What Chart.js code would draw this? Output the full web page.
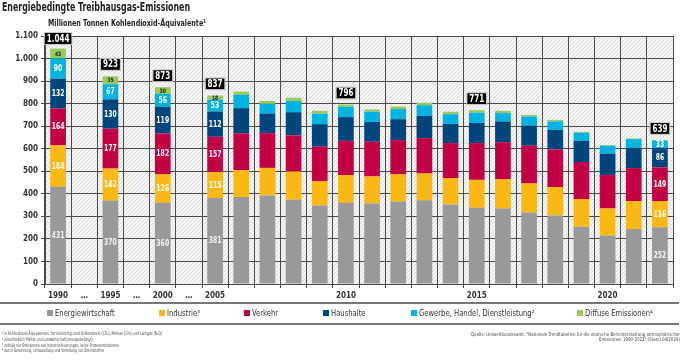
<!DOCTYPE html>
<html>
<head>
<meta charset="utf-8">
<script src="https://cdn.jsdelivr.net/npm/chart.js@4/dist/chart.umd.min.js"></script>
<style>
  html, body { margin: 0; padding: 0; background: #fff; }
  #wrap { position: relative; width: 684px; height: 361px; }
</style>
</head>
<body>
<div id="wrap"><canvas id="emissionen"></canvas></div>
<script>
const FONT = "'Liberation Sans Narrow', 'DejaVu Sans Condensed', 'Open Sans', sans-serif";

// categories ("…" = skipped years, no bar)
const categories = ['1990', '…', '1995', '…', '2000', '…', '2005', '2006', '2007', '2008', '2009', '2010',
    '2011', '2012', '2013', '2014', '2015', '2016', '2017', '2018', '2019', '2020', '2021', '2022'];

// Mio. t CO2-Äquivalente
const energiewirtschaft = [431, null, 370, null, 360, null, 381, 386, 393, 374, 348, 360, 357, 366, 371, 353, 338, 335, 317, 304, 254, 215, 244, 252];
const industrie = [184, null, 142, null, 126, null, 115, 119, 122, 125, 109, 123, 120, 120, 119, 117, 124, 129, 129, 126, 123, 120, 124, 116];
const verkehr = [164, null, 177, null, 182, null, 157, 163, 154, 160, 152, 152, 154, 152, 157, 155, 163, 165, 167, 167, 164, 148, 146, 149];
const haushalte = [132, null, 130, null, 119, null, 112, 112, 87, 103, 100, 105, 88, 93, 99, 85, 89, 92, 90, 87, 94, 95, 90, 86];
const gewerbe = [90, null, 67, null, 56, null, 53, 59, 43, 50, 46, 46, 45, 45, 47, 43, 46, 38, 40, 37, 36, 35, 39, 33];
const diffuse = [43, null, 35, null, 30, null, 18, 14, 13, 14, 13, 10, 10, 11, 11, 11, 11, 9, 7, 7, 4, 3, 2, 3];

// totals shown in the black boxes
const totalYears = ['1990', '1995', '2000', '2005', '2010', '2015', '2022'];
const totalValues = [1044, 923, 873, 837, 796, 771, 639];

// bars whose segments carry value labels
const labelledYears = ['1990', '1995', '2000', '2005', '2022'];

const yTicks = { min: 0, max: 1100, step: 100 };

const fmt = v => v.toLocaleString('de-DE');


// draw text squeezed horizontally (the original uses a narrow font)
function squeezed(ctx, txt, x, y, sx) {
    ctx.save();
    ctx.translate(x, y);
    ctx.scale(sx, 1);
    ctx.fillText(txt, 0, 0);
    ctx.restore();
}

// squeeze factor so that txt gets the given width
function fitScale(ctx, txt, width) {
    return Math.min(1, width / ctx.measureText(txt).width);
}

// hatched plot background
function hatchPattern(ctx) {
    const c = document.createElement('canvas');
    c.width = 4; c.height = 4;
    const g = c.getContext('2d');
    g.fillStyle = '#f4f4f4';
    g.fillRect(0, 0, 4, 4);
    g.fillStyle = '#dddddd';
    for (let i = 0; i < 4; i++) g.fillRect(i, 3 - i, 1, 1);
    return ctx.createPattern(c, 'repeat');
}

const background = {
    id: 'background',
    beforeDraw(chart) {
        const { ctx, chartArea: a } = chart;
        ctx.save();
        ctx.fillStyle = hatchPattern(ctx);
        ctx.fillRect(a.left, a.top, a.right - a.left, a.bottom - a.top);
        ctx.restore();
    }
};

// segment values, total boxes, titles, legend and notes
const decorations = {
    id: 'decorations',
    afterDatasetsDraw(chart) {
        const ctx = chart.ctx;
        ctx.save();
        ctx.textAlign = 'center';
        ctx.textBaseline = 'middle';

        // values inside the segments
        labelledYears.forEach(year => {
            const i = categories.indexOf(year);
            chart.data.datasets.forEach((ds, d) => {
                const v = ds.data[i];
                if (v == null || v < 5) return;
                const el = chart.getDatasetMeta(d).data[i];
                const cy = (el.y + el.base) / 2;
                if (d === 5) {
                    ctx.font = 'bold 6px ' + FONT;
                    ctx.fillStyle = '#222';
                } else {
                    ctx.font = 'bold 8px ' + FONT;
                    ctx.fillStyle = d === 0 ? '#f2f2f2' : '#fff';
                }
                squeezed(ctx, String(v), el.x, cy + 0.5, 0.85);
            });
        });

        // totals
        const y = chart.scales.y;
        totalYears.forEach((year, k) => {
            const i = categories.indexOf(year);
            const x = chart.scales.x.getPixelForValue(i);
            const top = y.getPixelForValue(totalValues[k]);
            const txt = fmt(totalValues[k]);
            ctx.font = 'bold 10px ' + FONT;
            const w = ctx.measureText(txt).width * 0.8 + 4;
            const h = 11;
            const by = Math.max(top - 6 - h, chart.chartArea.top - 3);
            ctx.fillStyle = '#000';
            ctx.strokeStyle = '#c8c8c8';
            ctx.lineWidth = 1;
            ctx.fillRect(x - w / 2, by, w, h);
            ctx.strokeRect(x - w / 2 - 0.5, by - 0.5, w + 1, h + 1);
            ctx.fillStyle = '#fff';
            squeezed(ctx, txt, x, by + h / 2 + 0.5, 0.8);
        });
        ctx.restore();
    },
    afterDraw(chart) {
        const ctx = chart.ctx;
        ctx.save();
        ctx.textBaseline = 'middle';
        ctx.textAlign = 'left';

        const title = 'Energiebedingte Treibhausgas-Emissionen';
        const subtitle = 'Millionen Tonnen Kohlendioxid-Äquivalente¹';
        ctx.fillStyle = '#222';
        ctx.font = 'bold 13px ' + FONT;
        squeezed(ctx, title, 2, 8, fitScale(ctx, title, 188));
        ctx.font = 'bold 9px ' + FONT;
        squeezed(ctx, subtitle, 48, 24, fitScale(ctx, subtitle, 158));

        // rules
        ctx.fillStyle = '#777';
        ctx.fillRect(0, 302, 679, 2);
        ctx.fillRect(0, 323, 679, 2);

        // legend
        const legendX = [47, 159, 244, 323, 411, 577];
        ctx.font = '8px ' + FONT;
        chart.data.datasets.forEach((ds, d) => {
            ctx.fillStyle = ds.backgroundColor;
            ctx.fillRect(legendX[d], 310, 6, 6);
            ctx.fillStyle = '#333';
            squeezed(ctx, ds.label, legendX[d] + 8, 313.5, 0.95);
        });

        // footnotes
        ctx.fillStyle = '#444';
        ctx.font = '5px ' + FONT;
        const notes = [
            '¹ in Kohlendioxid-Äquivalenten, berücksichtigt sind Kohlendioxid (CO₂), Methan (CH₄) und Lachgas (N₂O)',
            '² einschließlich Militär und Landwirtschaft (energiebedingt)',
            '³ enthält nur Emissionen aus Industriefeuerungen, keine Prozessemissionen',
            '⁴ durch Gewinnung, Umwandlung und Verteilung von Brennstoffen'
        ];
        const ns = fitScale(ctx, notes[0], 160);
        notes.forEach((t, k) => squeezed(ctx, t, 2, 334 + k * 5.7, ns));

        const source = [
            'Quelle: Umweltbundesamt: "Nationale Trendtabellen für die deutsche Berichterstattung atmosphärischer',
            'Emissionen 1990-2022" (Stand 04/2024)'
        ];
        ctx.textAlign = 'right';
        const ss = fitScale(ctx, source[0], 209);
        source.forEach((t, k) => squeezed(ctx, t, 680, 334.5 + k * 5, ss));
        ctx.restore();
    }
};

Chart.defaults.font.family = FONT;

new Chart(document.getElementById('emissionen'), {
    type: 'bar',
    plugins: [background, decorations],
    data: {
        labels: categories,
        datasets: [
            { label: 'Energiewirtschaft', data: energiewirtschaft, backgroundColor: '#999999' },
            { label: 'Industrie³', data: industrie, backgroundColor: '#fbb814' },
            { label: 'Verkehr', data: verkehr, backgroundColor: '#c20045' },
            { label: 'Haushalte', data: haushalte, backgroundColor: '#00457c' },
            { label: 'Gewerbe, Handel, Dienstleistung²', data: gewerbe, backgroundColor: '#00b3e0' },
            { label: 'Diffuse Emissionen⁴', data: diffuse, backgroundColor: '#97c95c' }
        ]
    },
    options: {
        responsive: true,
        maintainAspectRatio: false,
        animation: false,
        layout: {
            padding: { top: 36, right: 11, left: 0, bottom: 0 }
        },
        datasets: {
            bar: {
                barPercentage: 0.6,
                categoryPercentage: 1,
                borderWidth: 0
            }
        },
        plugins: {
            legend: { display: false },
            tooltip: { enabled: false }
        },
        scales: {
            x: {
                stacked: true,
                afterFit: s => { s.height = 77; },
                grid: {
                    color: '#4a4a4a',
                    lineWidth: 1,
                    tickLength: 4,
                    offset: true
                },
                border: { color: '#4a4a4a' },
                ticks: {
                    autoSkip: false,
                    maxRotation: 0,
                    padding: 3,
                    color: '#333',
                    font: { size: 8, weight: 'bold' },
                    callback: function (v) {
                        const l = categories[v];
                        if (l === '…') return l;
                        return Number(l) % 5 === 0 ? l : '';
                    }
                }
            },
            y: {
                stacked: true,
                min: yTicks.min,
                max: yTicks.max,
                afterFit: s => { s.width = 45; },
                grid: {
                    color: '#4a4a4a',
                    lineWidth: 1,
                    tickLength: 4
                },
                border: { color: '#4a4a4a' },
                ticks: {
                    stepSize: yTicks.step,
                    padding: 3,
                    color: '#333',
                    font: { size: 8, weight: 'bold' },
                    callback: v => fmt(v)
                }
            }
        }
    }
});
</script>
</body>
</html>
